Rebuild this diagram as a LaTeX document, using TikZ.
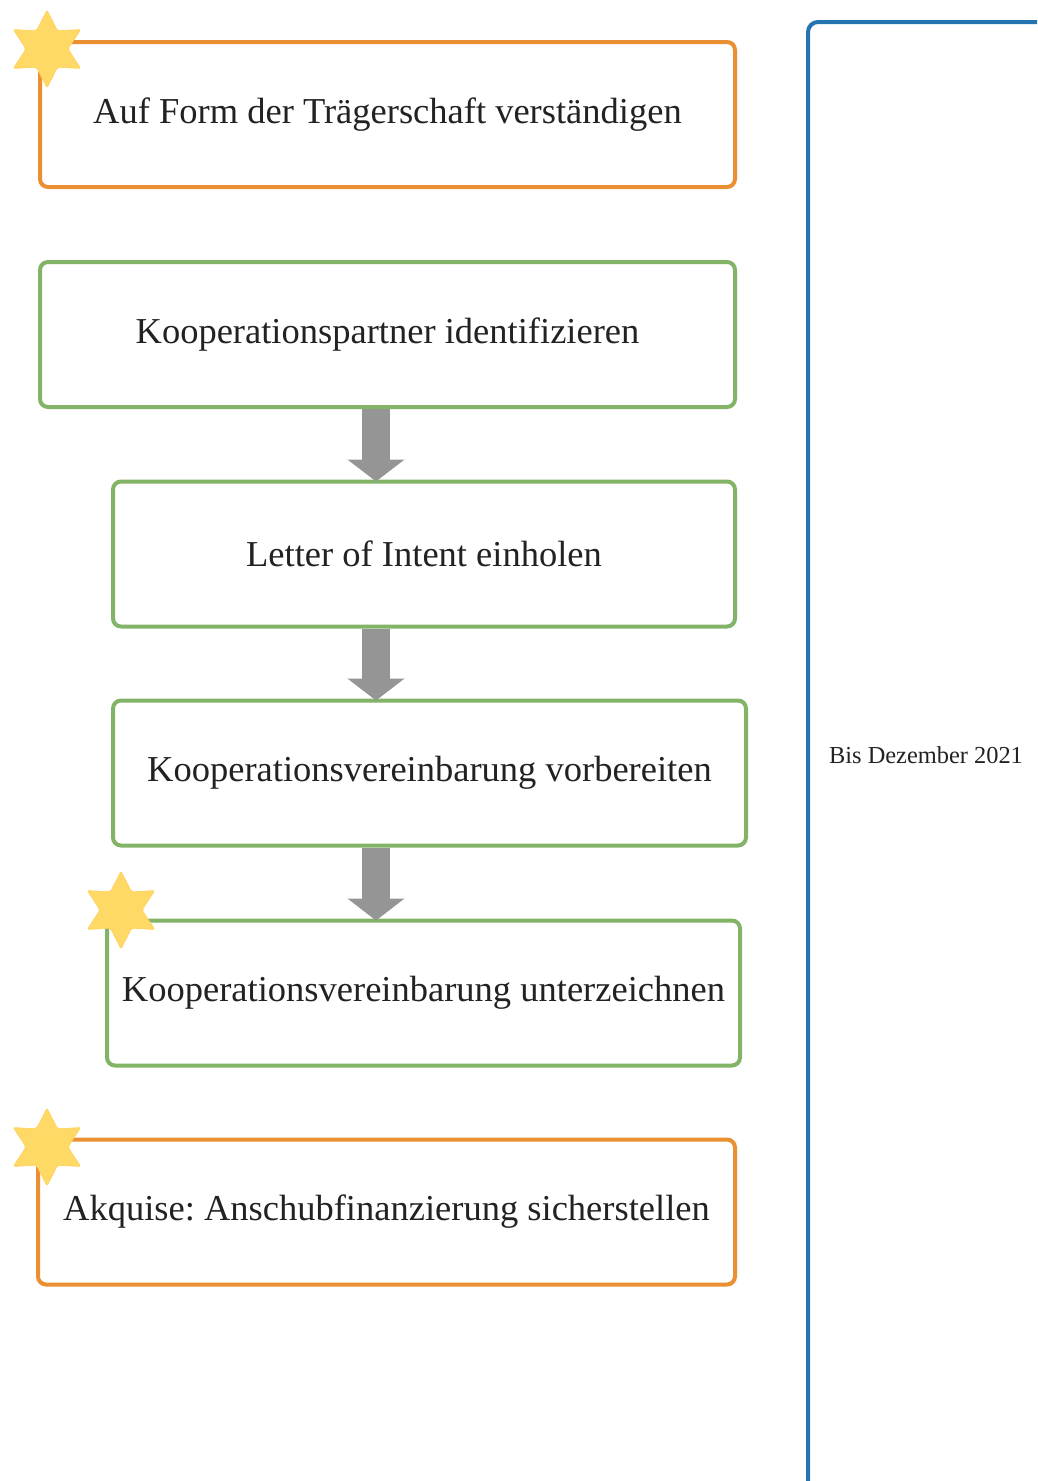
\documentclass[tikz,border=0pt]{standalone}
\usepackage{fontspec}
\setmainfont{Liberation Serif}
\usetikzlibrary{arrows.meta}
\frenchspacing
\definecolor{orangeline}{HTML}{EA8F32}
\definecolor{greenline}{HTML}{82B366}
\definecolor{blueline}{HTML}{2474B0}
\definecolor{starfill}{HTML}{FFD966}
\definecolor{arrowgray}{HTML}{959595}
\definecolor{txt}{HTML}{222222}
\tikzset{
  stepbox/.style={draw, line width=4pt, rounded corners=8pt, fill=white,
    minimum height=145pt, inner sep=0pt, text=txt,
    font=\fontsize{36.5}{42}\selectfont},
  orangebox/.style={stepbox, draw=orangeline},
  greenbox/.style={stepbox, draw=greenline},
  blockarr/.style={draw=arrowgray, line width=28pt,
    -{Triangle[width=56pt,length=22pt]}, color=arrowgray},
  starshape/.style={fill=starfill, draw=starfill!90!orange, line width=0.6pt, rounded corners=2pt}
}
\newcommand{\sixstar}[2]{%
  \path[starshape, shift={(#1,#2)}]
    (90:39pt) -- (120:21pt) -- (150:39pt) -- (180:21pt) -- (210:39pt) -- (240:21pt)
    -- (270:39pt) -- (300:21pt) -- (330:39pt) -- (0:21pt) -- (30:39pt) -- (60:21pt) -- cycle;}
\begin{document}
\begin{tikzpicture}[x=1pt,y=-1pt]
\useasboundingbox (0,0) rectangle (1037,1481);
\clip (0,0) rectangle (1037,1481);
% blue container
\draw[blueline, line width=4pt, rounded corners=10pt] (808,22) rectangle (1080,1530);
\node[text=txt, font=\fontsize{24.4}{29}\selectfont] (due) at (926,755) {Bis Dezember 2021};
% boxes
\node[orangebox, minimum width=695pt] (b1) at (387.5,114.5) {Auf Form der Trägerschaft verständigen};
\node[greenbox, minimum width=695pt] (b2) at (387.5,334.5) {Kooperationspartner identifizieren};
\node[greenbox, minimum width=622pt] (b3) at (424,554) {Letter of Intent einholen};
\node[greenbox, minimum width=633pt] (b4) at (429.5,773) {Kooperationsvereinbarung vorbereiten};
\node[greenbox, minimum width=633pt] (b5) at (423.5,993) {Kooperationsvereinbarung unterzeichnen};
\node[orangebox, minimum width=697pt] (b6) at (386.5,1212) {Akquise: Anschubfinanzierung sicherstellen};
% arrows
\coordinate (ax) at (376,0);
\draw[blockarr] (ax |- b2.south) -- ([yshift=-2pt]ax |- b3.north);
\draw[blockarr] (ax |- b3.south) -- ([yshift=-2pt]ax |- b4.north);
\draw[blockarr] (ax |- b4.south) -- ([yshift=-2pt]ax |- b5.north);
% stars
\sixstar{47}{49}
\sixstar{121}{910}
\sixstar{47}{1147}
\end{tikzpicture}
\end{document}
